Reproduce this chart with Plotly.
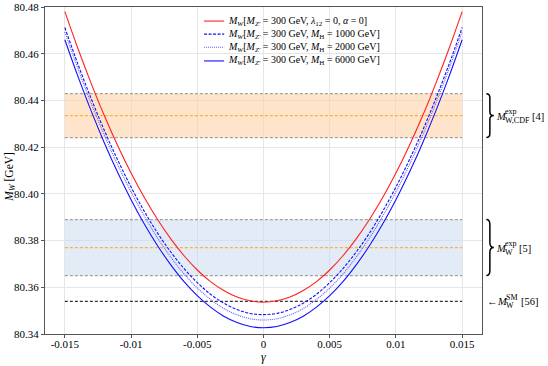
import plotly.graph_objects as go

# gamma grid and M_W curves
gamma = [-0.015, -0.014, -0.013, -0.012, -0.011, -0.010, -0.009, -0.008, -0.007, -0.006,
         -0.005, -0.004, -0.003, -0.002, -0.001, 0.0, 0.001, 0.002, 0.003, 0.004, 0.005,
         0.006, 0.007, 0.008, 0.009, 0.010, 0.011, 0.012, 0.013, 0.014, 0.015]

mw_ref = [80.4780, 80.4620, 80.4471, 80.4332, 80.4205, 80.4089, 80.3984, 80.3890, 80.3807,
          80.3735, 80.3674, 80.3624, 80.3586, 80.3558, 80.3542, 80.3536, 80.3542, 80.3558,
          80.3586, 80.3624, 80.3674, 80.3735, 80.3807, 80.3890, 80.3984, 80.4089, 80.4205,
          80.4332, 80.4471, 80.4620, 80.4780]
mw_h1000 = [80.4712, 80.4553, 80.4406, 80.4269, 80.4144, 80.4029, 80.3925, 80.3832, 80.3751,
            80.3680, 80.3620, 80.3570, 80.3532, 80.3505, 80.3488, 80.3483, 80.3488, 80.3505,
            80.3532, 80.3570, 80.3620, 80.3680, 80.3751, 80.3832, 80.3925, 80.4029, 80.4144,
            80.4269, 80.4406, 80.4553, 80.4712]
mw_h2000 = [80.4693, 80.4534, 80.4386, 80.4249, 80.4123, 80.4008, 80.3904, 80.3811, 80.3729,
            80.3657, 80.3597, 80.3548, 80.3509, 80.3482, 80.3465, 80.3460, 80.3465, 80.3482,
            80.3509, 80.3548, 80.3597, 80.3657, 80.3729, 80.3811, 80.3904, 80.4008, 80.4123,
            80.4249, 80.4386, 80.4534, 80.4693]
mw_h6000 = [80.4660, 80.4501, 80.4353, 80.4216, 80.4090, 80.3975, 80.3871, 80.3778, 80.3696,
            80.3624, 80.3564, 80.3515, 80.3476, 80.3449, 80.3432, 80.3427, 80.3432, 80.3449,
            80.3476, 80.3515, 80.3564, 80.3624, 80.3696, 80.3778, 80.3871, 80.3975, 80.4090,
            80.4216, 80.4353, 80.4501, 80.4660]

# experimental values
band_x = [-0.015, 0.015]
cdf_val, cdf_err = 80.4335, 0.0094
exp_val, exp_err = 80.377, 0.012
sm_val = 80.354

FONT = "Liberation Serif"

fig = go.Figure()


def add_band(center, err, fill):
    lo, hi = center - err, center + err
    fig.add_trace(go.Scatter(x=band_x + band_x[::-1], y=[lo, lo, hi, hi], fill="toself",
                             fillcolor=fill, line=dict(width=0), mode="lines",
                             showlegend=False, hoverinfo="skip"))
    for yv in (lo, hi):
        fig.add_trace(go.Scatter(x=band_x, y=[yv, yv], mode="lines",
                                 line=dict(color="#a0a0a0", width=1.2, dash="3px,2px"),
                                 showlegend=False, hoverinfo="skip"))
    fig.add_trace(go.Scatter(x=band_x, y=[center, center], mode="lines",
                             line=dict(color="#fbb040", width=1.2, dash="3px,2px"),
                             showlegend=False, hoverinfo="skip"))


add_band(cdf_val, cdf_err, "rgba(253,205,160,0.55)")
add_band(exp_val, exp_err, "rgba(200,218,238,0.5)")
fig.add_trace(go.Scatter(x=band_x, y=[sm_val, sm_val], mode="lines",
                         line=dict(color="black", width=1, dash="3px,2px"),
                         showlegend=False, hoverinfo="skip"))

curves = [
    (mw_ref, "<i>M</i><sub><i>W</i></sub>[<i>M</i><sub><i>Z'</i></sub> = 300 GeV, <i>λ</i><sub>12</sub> = 0, <i>α</i> = 0]",
     "#ff2020", "solid"),
    (mw_h1000, "<i>M</i><sub><i>W</i></sub>[<i>M</i><sub><i>Z'</i></sub> = 300 GeV, <i>M</i><sub>H</sub> = 1000 GeV]",
     "#1010ff", "3px,1.5px"),
    (mw_h2000, "<i>M</i><sub><i>W</i></sub>[<i>M</i><sub><i>Z'</i></sub> = 300 GeV, <i>M</i><sub>H</sub> = 2000 GeV]",
     "#5a5aff", "1px,1px"),
    (mw_h6000, "<i>M</i><sub><i>W</i></sub>[<i>M</i><sub><i>Z'</i></sub> = 300 GeV, <i>M</i><sub>H</sub> = 6000 GeV]",
     "#1010ff", "solid"),
]

# hand-made legend (matplotlib-like compact spacing)
leg_x0, leg_x1, leg_tx = 0.364, 0.41, 0.414
leg_y = [0.957, 0.917, 0.877, 0.835]
for (ys, name, color, dash), ly in zip(curves, leg_y):
    fig.add_trace(go.Scatter(x=gamma, y=ys, name=name, mode="lines", line_shape="spline",
                             line=dict(color=color, width=1.1, dash=dash), showlegend=False))
    fig.add_shape(type="line", xref="paper", yref="paper", x0=leg_x0, x1=leg_x1, y0=ly, y1=ly,
                  line=dict(color=color, width=1.1, dash=dash))
    fig.add_annotation(x=leg_tx, y=ly, xref="paper", yref="paper", xanchor="left", yanchor="middle",
                       showarrow=False, text=name, font=dict(size=10))


def brace(center, err):
    y0, y1 = center - err, center + err
    ym = (y0 + y1) / 2
    r = (y1 - y0) * 0.09
    xl, xm, xt = 1.010, 1.018, 1.027
    path = (f"M {xl},{y1} Q {xm},{y1} {xm},{y1 - r} L {xm},{ym + r} "
            f"Q {xm},{ym} {xt},{ym} Q {xm},{ym} {xm},{ym - r} "
            f"L {xm},{y0 + r} Q {xm},{y0} {xl},{y0}")
    fig.add_shape(type="path", path=path, xref="paper", yref="y",
                  line=dict(color="black", width=1.5))


def label(y, parts):
    # parts: (x_paper, text, size, yshift)
    for x, text, size, dy in parts:
        fig.add_annotation(x=x, y=y, xref="paper", yref="y", xanchor="left", yanchor="middle",
                           showarrow=False, text=text, font=dict(size=size), yshift=dy,
                           borderpad=0)


brace(cdf_val, cdf_err)
brace(exp_val, exp_err)

label(cdf_val, [(1.029, "<i>M</i>", 10.5, -1), (1.050, "exp", 8, 4),
                (1.050, "W,CDF", 8, -5), (1.113, "[4]", 10.5, -1)])
label(exp_val, [(1.029, "<i>M</i>", 10.5, -1), (1.050, "exp", 8, 4),
                (1.050, "W", 8, -5), (1.082, "[5]", 10.5, -1)])
label(sm_val, [(1.010, "←", 10.5, 0), (1.032, "<i>M</i>", 10.5, 0), (1.053, "SM", 8, 4),
               (1.053, "W", 8, -4), (1.086, "[56]", 10.5, 0)])

# axis titles
fig.add_annotation(x=-0.082, y=0.5, xref="paper", yref="paper", textangle=-90, showarrow=False,
                   xanchor="center", yanchor="middle",
                   text="<i>M</i><sub><i>W</i></sub> [GeV]", font=dict(size=11.5), yshift=-6)
fig.add_annotation(x=0.5, y=-0.07, xref="paper", yref="paper", showarrow=False,
                   text="<i>γ</i>", font=dict(size=12), yanchor="middle")

axis_common = dict(showline=True, linecolor="#555555", linewidth=1, mirror=True,
                   showgrid=True, gridcolor="#e6e6e6", gridwidth=1, zeroline=False,
                   ticks="outside", ticklen=3, tickcolor="#555555", automargin=False,
                   ticklabeloverflow="allow", tickfont=dict(size=11, color="black"))

fig.update_xaxes(range=[-0.0165, 0.0165], tickvals=[-0.015, -0.01, -0.005, 0, 0.005, 0.01, 0.015],
                 ticktext=["-0.015", "-0.01", "-0.005", "0", "0.005", "0.01", "0.015"],
                 ticklabelstandoff=-3, **axis_common)
fig.update_yaxes(range=[80.34, 80.48], dtick=0.02, tickformat=".2f", **axis_common)

fig.update_layout(
    width=548, height=366,
    margin=dict(l=45, r=66, t=7, b=32),
    template="plotly_white",
    plot_bgcolor="white", paper_bgcolor="white",
    font=dict(family=FONT, size=11, color="black"),
    showlegend=False,
)

# drop the browser's default body margin so the figure sits at the window's corner
fig.write_html("out.html", config={"displayModeBar": False},
               post_script="document.body.style.margin='0';")
